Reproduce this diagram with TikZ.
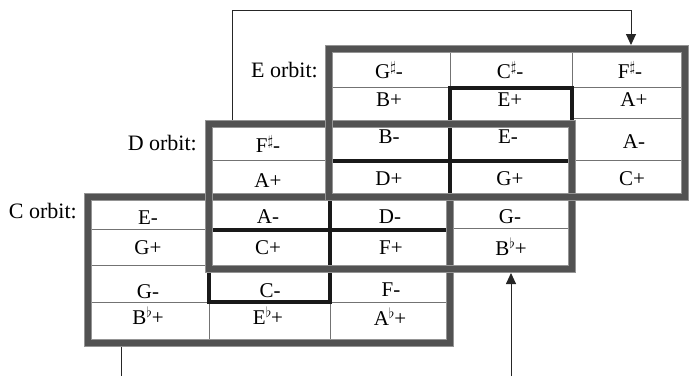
\documentclass[tikz,border=0pt]{standalone}
\usepackage{fontspec}
\setmainfont{Liberation Serif}
\usetikzlibrary{arrows.meta}
\newcommand{\shp}{\raisebox{0.33em}{\fontsize{15}{15}\selectfont$\sharp$}}
\newcommand{\flt}{\raisebox{0.33em}{\fontsize{15}{15}\selectfont$\flat$}}
\begin{document}
\begin{tikzpicture}[x=1pt,y=-1pt,
  gridline/.style={draw=black!55, line width=0.8pt},
  heavyline/.style={draw=black!90, line width=3.6pt},
  orbitbox/.style={rectangle, draw=black!68, line width=5.5pt,
    preaction={draw=black!42, line width=8.5pt},
    inner sep=0pt, outer sep=4pt},
  cell/.style={anchor=base, inner sep=0pt, font=\fontsize{21}{25}\selectfont, text=black},
  orbitlabel/.style={anchor=base east, inner sep=0pt, font=\fontsize{22}{26}\selectfont, text=black},
  conn/.style={draw=black!85, line width=0.9pt},
  arrowend/.style={-{Triangle[length=11pt,width=10pt]}}
]
\useasboundingbox (0,0) rectangle (689,376);

% thin grid lines
\draw[gridline] (450,49) -- (450,87);
\draw[gridline] (572,49) -- (572,87);
\draw[gridline] (209,302) -- (209,343);
\draw[gridline] (330,302) -- (330,343);
\draw[gridline] (330,87) -- (450,87);
\draw[gridline] (572,87) -- (685,87);
\draw[gridline] (572,118) -- (685,118);
\draw[gridline] (209,160) -- (330,160);
\draw[gridline] (572,160) -- (685,160);
\draw[gridline] (88,229) -- (209,229);
\draw[gridline] (450,228) -- (572,228);
\draw[gridline] (88,265) -- (209,265);
\draw[gridline] (88,302) -- (209,302);
\draw[gridline] (330,302) -- (450,302);

% heavy black lines
\draw[heavyline] (450,197) -- (450,88) -- (572,88) -- (572,124);
\draw[heavyline] (330,161) -- (572,161);
\draw[heavyline] (330,197) -- (330,302) -- (209,302) -- (209,269);
\draw[heavyline] (209,230) -- (450,230);

% orbit boxes
\node[orbitbox, minimum width=362pt, minimum height=146pt] (Cbox) at (269,270) {};
\node[orbitbox, minimum width=363pt, minimum height=145pt] (Dbox) at (390.5,196.5) {};
\node[orbitbox, minimum width=356pt, minimum height=148pt] (Ebox) at (507,123) {};

% labels
\node[orbitlabel] (Elab) at (318,77) {E orbit:};
\node[orbitlabel] (Dlab) at (197,150) {D orbit:};
\node[orbitlabel] (Clab) at (77,218) {C orbit:};

% row 1
\node[cell] (r1c3) at (389,78) {G\shp-};
\node[cell] (r1c4) at (510,78) {C\shp-};
\node[cell] (r1c5) at (630,78) {F\shp-};
% row 2
\node[cell] (r2c3) at (389,106) {B+};
\node[cell] (r2c4) at (510,106) {E+};
\node[cell] (r2c5) at (634,106) {A+};
% row 3
\node[cell] (r3c2) at (268,152) {F\shp-};
\node[cell] (r3c3) at (389,143) {B-};
\node[cell] (r3c4) at (508,143) {E-};
\node[cell] (r3c5) at (634,148) {A-};
% row 4
\node[cell] (r4c2) at (268,187) {A+};
\node[cell] (r4c3) at (389,185) {D+};
\node[cell] (r4c4) at (510,185) {G+};
\node[cell] (r4c5) at (632,185) {C+};
% row 5
\node[cell] (r5c1) at (148,224) {E-};
\node[cell] (r5c2) at (268,223) {A-};
\node[cell] (r5c3) at (390,223) {D-};
\node[cell] (r5c4) at (510,223) {G-};
% row 6
\node[cell] (r6c1) at (148,254) {G+};
\node[cell] (r6c2) at (268,254) {C+};
\node[cell] (r6c3) at (391,254) {F+};
\node[cell] (r6c4) at (511,255) {B\flt+};
% row 7
\node[cell] (r7c1) at (148,298) {G-};
\node[cell] (r7c2) at (270,297) {C-};
\node[cell] (r7c3) at (391,296) {F-};
% row 8
\node[cell] (r8c1) at (148,324) {B\flt+};
\node[cell] (r8c2) at (268,324) {E\flt+};
\node[cell] (r8c3) at (390,325) {A\flt+};

% connectors
\coordinate (tl) at (232,10);
\coordinate (tr) at (631,10);
\draw[conn, arrowend] (Dbox.north -| tl) -- (tl) -- (tr) -- (Ebox.north -| tr);
\coordinate (cb) at (121,376);
\draw[conn] (Cbox.south -| cb) -- (cb);
\coordinate (db) at (511,376);
\draw[conn, arrowend] (db) -- (Dbox.south -| db);
\end{tikzpicture}
\end{document}
